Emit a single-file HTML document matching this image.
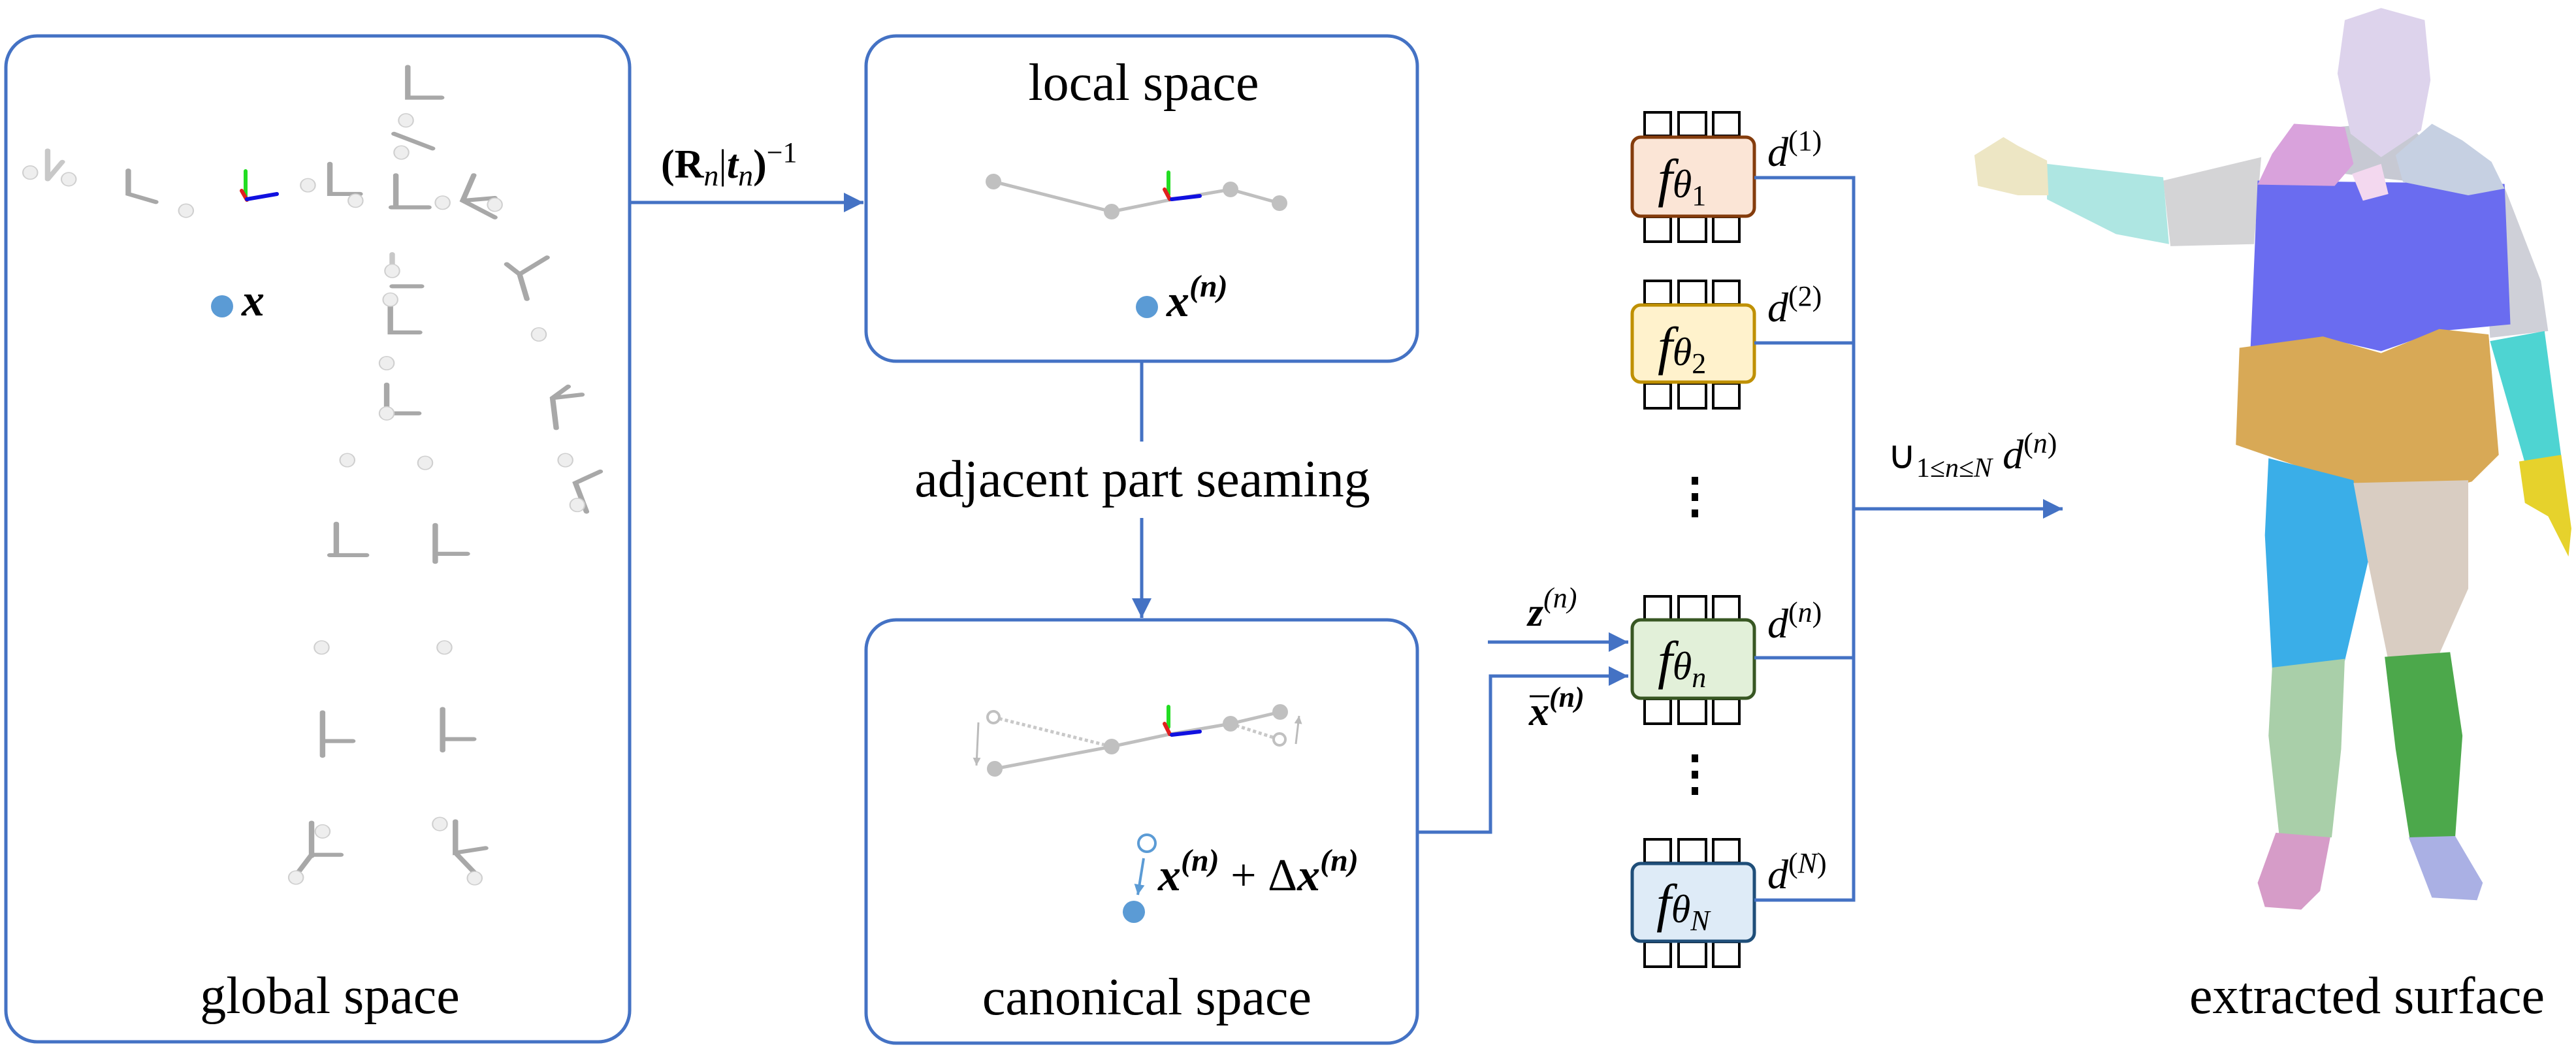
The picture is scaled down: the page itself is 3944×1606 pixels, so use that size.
<!DOCTYPE html>
<html><head><meta charset="utf-8"><style>
html,body{margin:0;padding:0;background:#fff;}
svg{display:block;}
text{font-family:"Liberation Serif",serif;fill:#000;}
.lbl{font-size:80px;}
.m{font-style:italic;}
.b{font-weight:bold;}
</style></head><body>
<svg width="3944" height="1606" viewBox="0 0 3944 1606" xmlns="http://www.w3.org/2000/svg">
<defs>
<marker id="ah" viewBox="0 0 10 10" refX="10" refY="5" markerWidth="6" markerHeight="6" orient="auto" markerUnits="strokeWidth"><path d="M0,0 L10,5 L0,10 z" fill="#4472c4"/></marker>
<marker id="ahg" viewBox="0 0 10 10" refX="10" refY="5" markerWidth="4" markerHeight="4" orient="auto" markerUnits="strokeWidth"><path d="M0,0 L10,5 L0,10 z" fill="#bbb"/></marker>
<marker id="ahb" viewBox="0 0 10 10" refX="10" refY="5" markerWidth="4" markerHeight="4" orient="auto" markerUnits="strokeWidth"><path d="M0,0 L10,5 L0,10 z" fill="#5b9bd5"/></marker>
</defs>

<!-- Global box -->
<rect x="9" y="55" width="955" height="1540" rx="48" fill="none" stroke="#4472c4" stroke-width="5"/>
<text class="lbl" x="505" y="1551" text-anchor="middle">global space</text>

<!-- skeleton (zoom1 coords) -->
<g transform="scale(1.403,1.024)" stroke="#a8a8a8" stroke-width="6" stroke-linecap="round" fill="none">
<path d="M445,100 V146 H482"/>
<path d="M430,200 L472,222"/>
<path d="M52,225 V268 M52,268 L68,242" stroke="#c8c8c8"/>
<path d="M140,255 V290 L170,302"/>
<path d="M360,245 V290 H393"/>
<path d="M432,262 V310 M427,310 H468"/>
<path d="M517,262 L505,300 L540,325 M505,300 L540,296" />
<path d="M428,380 V405" stroke="#c8c8c8"/>
<path d="M428,428 H460"/>
<path d="M426,455 V497 H458"/>
<path d="M553,395 L567,410 L597,385 M567,410 L575,447"/>
<path d="M422,575 V618 H457"/>
<path d="M620,578 L603,595 L607,640 M603,595 L635,590"/>
<path d="M655,705 L628,722 L640,765"/>
<path d="M367,783 V830 M360,830 H400"/>
<path d="M475,785 V840 M475,828 H510"/>
<path d="M352,1065 V1130 M352,1108 H385"/>
<path d="M483,1060 V1122 M483,1105 H517"/>
<path d="M340,1230 V1280 M340,1278 H372 M340,1278 L325,1305"/>
<path d="M497,1228 V1275 L530,1268 M497,1275 L518,1305"/>
</g>
<g transform="scale(1.403,1.024)" fill="#eeeeee" stroke="#cfcfcf" stroke-width="1.5">
<ellipse cx="443" cy="180" rx="8" ry="10"/><ellipse cx="438" cy="228" rx="8" ry="10"/>
<ellipse cx="33" cy="258" rx="8" ry="10"/><ellipse cx="75" cy="268" rx="8" ry="10"/>
<ellipse cx="203" cy="315" rx="8" ry="10"/><ellipse cx="336" cy="277" rx="8" ry="10"/>
<ellipse cx="388" cy="300" rx="8" ry="10"/><ellipse cx="483" cy="303" rx="8" ry="10"/>
<ellipse cx="540" cy="306" rx="8" ry="10"/><ellipse cx="428" cy="405" rx="8" ry="10"/>
<ellipse cx="426" cy="448" rx="8" ry="10"/><ellipse cx="588" cy="500" rx="8" ry="10"/>
<ellipse cx="422" cy="543" rx="8" ry="10"/><ellipse cx="422" cy="618" rx="8" ry="10"/>
<ellipse cx="379" cy="688" rx="8" ry="10"/><ellipse cx="464" cy="692" rx="8" ry="10"/>
<ellipse cx="617" cy="688" rx="8" ry="10"/><ellipse cx="630" cy="755" rx="8" ry="10"/>
<ellipse cx="351" cy="968" rx="8" ry="10"/><ellipse cx="485" cy="968" rx="8" ry="10"/>
<ellipse cx="352" cy="1243" rx="8" ry="10"/><ellipse cx="323" cy="1312" rx="8" ry="10"/>
<ellipse cx="480" cy="1232" rx="8" ry="10"/><ellipse cx="518" cy="1313" rx="8" ry="10"/>
</g>
<g stroke-width="6" stroke-linecap="round">
<line x1="376" y1="302" x2="376" y2="262" stroke="#22dd22"/>
<line x1="370" y1="292" x2="378" y2="306" stroke="#e02020"/>
<line x1="378" y1="305" x2="424" y2="297" stroke="#1010e0"/>
</g>
<circle cx="340" cy="469" r="17" fill="#5b9bd5"/>
<text x="370" y="483" font-size="70" class="m b">x</text>

<!-- (R|t)^-1 arrow -->
<line x1="964" y1="310" x2="1322" y2="310" stroke="#4472c4" stroke-width="5" marker-end="url(#ah)"/>
<text x="1012" y="272" font-size="62"><tspan class="b">(R</tspan><tspan class="m" font-size="46" dy="12">n</tspan><tspan dy="-12">|</tspan><tspan class="m b">t</tspan><tspan class="m" font-size="46" dy="12">n</tspan><tspan class="b" dy="-12">)</tspan><tspan font-size="44" dy="-24">−1</tspan></text>

<!-- Local box -->
<rect x="1326" y="55" width="844" height="498" rx="46" fill="none" stroke="#4472c4" stroke-width="5"/>
<text class="lbl" x="1751" y="153" text-anchor="middle">local space</text>
<polyline points="1521,278 1702,324 1791,306 1884,290 1959,311" fill="none" stroke="#bfbfbf" stroke-width="5"/>
<g fill="#c0c0c0"><circle cx="1521" cy="278" r="12"/><circle cx="1702" cy="324" r="12"/><circle cx="1884" cy="290" r="12"/><circle cx="1959" cy="311" r="12"/></g>
<g stroke-width="6" stroke-linecap="round">
<line x1="1789" y1="264" x2="1789" y2="298" stroke="#22dd22"/>
<line x1="1783" y1="290" x2="1791" y2="305" stroke="#e02020"/>
<line x1="1794" y1="305" x2="1837" y2="300" stroke="#1010e0"/>
</g>
<circle cx="1756" cy="470" r="17" fill="#5b9bd5"/>
<text x="1786" y="484" font-size="70" class="m b">x<tspan font-size="48" dy="-30">(n)</tspan></text>

<!-- seaming arrow -->
<line x1="1748" y1="553" x2="1748" y2="676" stroke="#4472c4" stroke-width="5"/>
<text class="lbl" x="1749" y="760" text-anchor="middle">adjacent part seaming</text>
<line x1="1748" y1="793" x2="1748" y2="946" stroke="#4472c4" stroke-width="5" marker-end="url(#ah)"/>

<!-- Canonical box -->
<rect x="1326" y="949" width="844" height="648" rx="46" fill="none" stroke="#4472c4" stroke-width="5"/>
<text class="lbl" x="1756" y="1553" text-anchor="middle">canonical space</text>
<polyline points="1523,1177 1702,1143 1791,1124 1884,1108 1960,1090" fill="none" stroke="#bfbfbf" stroke-width="5"/>
<line x1="1521" y1="1098" x2="1702" y2="1143" stroke="#c8c8c8" stroke-width="5" stroke-dasharray="5,4"/>
<line x1="1884" y1="1108" x2="1959" y2="1132" stroke="#c8c8c8" stroke-width="5" stroke-dasharray="5,4"/>
<g fill="#c0c0c0"><circle cx="1523" cy="1177" r="12"/><circle cx="1702" cy="1143" r="12"/><circle cx="1884" cy="1108" r="12"/><circle cx="1960" cy="1090" r="12"/></g>
<circle cx="1521" cy="1098" r="9" fill="#fff" stroke="#c0c0c0" stroke-width="4"/>
<circle cx="1959" cy="1132" r="9" fill="#fff" stroke="#c0c0c0" stroke-width="4"/>
<line x1="1498" y1="1106" x2="1495" y2="1172" stroke="#bbb" stroke-width="3" marker-end="url(#ahg)"/>
<line x1="1984" y1="1139" x2="1989" y2="1096" stroke="#bbb" stroke-width="3" marker-end="url(#ahg)"/>
<g stroke-width="6" stroke-linecap="round">
<line x1="1789" y1="1082" x2="1789" y2="1113" stroke="#22dd22"/>
<line x1="1783" y1="1108" x2="1791" y2="1124" stroke="#e02020"/>
<line x1="1794" y1="1125" x2="1837" y2="1120" stroke="#1010e0"/>
</g>
<circle cx="1756" cy="1291" r="13" fill="#fff" stroke="#5b9bd5" stroke-width="4"/>
<line x1="1751" y1="1314" x2="1742" y2="1370" stroke="#5b9bd5" stroke-width="4" marker-end="url(#ahb)"/>
<circle cx="1736" cy="1396" r="17" fill="#5b9bd5"/>
<text x="1773" y="1363" font-size="70"><tspan class="m b">x</tspan><tspan font-size="48" dy="-30" class="m b">(n)</tspan><tspan dy="30"> + Δ</tspan><tspan class="m b">x</tspan><tspan font-size="48" dy="-30" class="m b">(n)</tspan></text>

<!-- connector canonical -> fn -->
<polyline points="2170,1274 2282,1274 2282,1035 2493,1035" fill="none" stroke="#4472c4" stroke-width="5" marker-end="url(#ah)"/>
<line x1="2278" y1="983" x2="2493" y2="983" stroke="#4472c4" stroke-width="5" marker-end="url(#ah)"/>
<text x="2339" y="958" font-size="62"><tspan class="b m">z</tspan><tspan class="m" font-size="44" dy="-28">(n)</tspan></text>
<text x="2341" y="1110" font-size="62"><tspan class="b m">x</tspan><tspan class="b m" font-size="44" dy="-28">(n)</tspan></text>
<line x1="2342" y1="1066" x2="2372" y2="1066" stroke="#000" stroke-width="3"/>

<!-- MLP blocks -->
<g stroke="#000" stroke-width="4" fill="#fff">
<rect x="2518" y="172" width="40" height="36"/><rect x="2570" y="172" width="42" height="36"/><rect x="2623" y="172" width="40" height="36"/>
<rect x="2518" y="332" width="40" height="38"/><rect x="2570" y="332" width="42" height="38"/><rect x="2623" y="332" width="40" height="38"/>
<rect x="2518" y="430" width="40" height="36"/><rect x="2570" y="430" width="42" height="36"/><rect x="2623" y="430" width="40" height="36"/>
<rect x="2518" y="587" width="40" height="38"/><rect x="2570" y="587" width="42" height="38"/><rect x="2623" y="587" width="40" height="38"/>
<rect x="2518" y="913" width="40" height="36"/><rect x="2570" y="913" width="42" height="36"/><rect x="2623" y="913" width="40" height="36"/>
<rect x="2518" y="1070" width="40" height="38"/><rect x="2570" y="1070" width="42" height="38"/><rect x="2623" y="1070" width="40" height="38"/>
<rect x="2518" y="1285" width="40" height="36"/><rect x="2570" y="1285" width="42" height="36"/><rect x="2623" y="1285" width="40" height="36"/>
<rect x="2518" y="1442" width="40" height="38"/><rect x="2570" y="1442" width="42" height="38"/><rect x="2623" y="1442" width="40" height="38"/>
</g>
<rect x="2499" y="210" width="187" height="121" rx="13" fill="#fbe5d6" stroke="#843c0c" stroke-width="5"/>
<rect x="2499" y="467" width="187" height="118" rx="13" fill="#fff2cc" stroke="#bf9000" stroke-width="5"/>
<rect x="2499" y="949" width="187" height="120" rx="13" fill="#e2f0d9" stroke="#385723" stroke-width="5"/>
<rect x="2499" y="1322" width="187" height="119" rx="13" fill="#deebf7" stroke="#1f4e79" stroke-width="5"/>
<g font-size="82" class="m">
<text x="2538" y="300">f<tspan font-size="60" dy="2">θ</tspan><tspan font-size="44" dy="12" font-style="normal">1</tspan></text>
<text x="2538" y="557">f<tspan font-size="60" dy="2">θ</tspan><tspan font-size="44" dy="12" font-style="normal">2</tspan></text>
<text x="2538" y="1038">f<tspan font-size="60" dy="2">θ</tspan><tspan font-size="44" dy="12">n</tspan></text>
<text x="2536" y="1410">f<tspan font-size="60" dy="2">θ</tspan><tspan font-size="44" dy="12">N</tspan></text>
</g>
<g font-size="64">
<text x="2706" y="254" class="m">d<tspan font-size="44" dy="-24" font-style="normal">(1)</tspan></text>
<text x="2706" y="492" class="m">d<tspan font-size="44" dy="-24" font-style="normal">(2)</tspan></text>
<text x="2706" y="976" class="m">d<tspan font-size="44" dy="-24" font-style="normal">(</tspan><tspan font-size="44">n</tspan><tspan font-size="44" font-style="normal">)</tspan></text>
<text x="2706" y="1360" class="m">d<tspan font-size="44" dy="-24" font-style="normal">(</tspan><tspan font-size="44">N</tspan><tspan font-size="44" font-style="normal">)</tspan></text>
</g>
<g fill="#000">
<rect x="2590" y="730" width="10" height="12"/><rect x="2590" y="755" width="10" height="12"/><rect x="2590" y="780" width="10" height="12"/>
<rect x="2590" y="1155" width="10" height="12"/><rect x="2590" y="1180" width="10" height="12"/><rect x="2590" y="1205" width="10" height="12"/>
</g>
<g stroke="#4472c4" stroke-width="5" fill="none">
<polyline points="2686,272 2838,272 2838,1378 2686,1378"/>
<line x1="2686" y1="525" x2="2838" y2="525"/>
<line x1="2686" y1="1007" x2="2838" y2="1007"/>
</g>
<line x1="2838" y1="779" x2="3158" y2="779" stroke="#4472c4" stroke-width="5" marker-end="url(#ah)"/>
<text x="2890" y="717" font-size="60" font-family="Liberation Sans,sans-serif">∪<tspan font-size="42" dy="13">1≤<tspan font-style="italic" font-family="Liberation Serif,serif">n</tspan>≤<tspan font-style="italic" font-family="Liberation Serif,serif">N</tspan></tspan><tspan dy="-13" font-family="Liberation Serif,serif" font-style="italic" font-size="64"> d</tspan><tspan font-family="Liberation Serif,serif" font-size="44" dy="-24">(<tspan font-style="italic">n</tspan>)</tspan></text>

<!-- Human mesh (zoom2 coords) -->
<g transform="translate(2200,0) scale(1.112,1.024)" stroke="none">
<path d="M1000,270 L1135,235 L1125,365 L1010,368 Z" fill="#d4d4d6"/>
<path d="M840,245 L1000,265 L1008,365 L935,350 L840,298 Z" fill="#aee6e2"/>
<path d="M740,232 L780,205 L800,218 L840,240 L842,292 L800,292 L745,278 Z" fill="#ede6c4"/>
<path d="M1440,300 L1470,280 L1520,420 L1530,495 L1450,505 Z" fill="#cfd0d8"/>
<path d="M1130,270 L1470,275 L1478,485 L1380,495 L1300,525 L1220,505 L1120,525 Z" fill="#6a6cf0"/>
<path d="M1105,520 L1220,503 L1300,528 L1380,492 L1448,500 L1462,680 L1425,720 L1345,745 L1262,722 L1180,695 L1100,665 Z" fill="#d8a956"/>
<path d="M1450,510 L1525,495 L1548,682 L1498,692 Z" fill="#4ed4d2"/>
<path d="M1490,690 L1548,680 L1562,790 L1558,832 L1530,772 L1498,752 Z" fill="#e6d22c"/>
<path d="M1145,685 L1262,718 L1282,840 L1250,988 L1150,1000 L1140,800 Z" fill="#3aaee8"/>
<path d="M1262,722 L1420,718 L1420,880 L1380,978 L1310,988 L1282,840 Z" fill="#d9cdc2"/>
<path d="M1150,998 L1250,985 L1245,1120 L1232,1252 L1160,1252 L1145,1100 Z" fill="#a9cfa9"/>
<path d="M1305,982 L1395,975 L1412,1100 L1402,1252 L1340,1258 L1320,1120 Z" fill="#4ca84b"/>
<path d="M1155,1245 L1230,1252 L1216,1332 L1190,1360 L1140,1356 L1130,1320 Z" fill="#d69cc8"/>
<path d="M1338,1252 L1402,1250 L1440,1320 L1432,1346 L1370,1342 Z" fill="#aab0e4"/>
<path d="M1240,190 L1330,180 L1380,230 L1330,270 L1250,260 Z" fill="#c7c9d3"/>
<path d="M1180,185 L1250,190 L1262,245 L1236,278 L1130,276 L1150,230 Z" fill="#d9a2dc"/>
<path d="M1320,232 L1370,185 L1412,210 L1452,242 L1470,282 L1420,292 L1330,272 Z" fill="#c6d0e2"/>
<path d="M1260,260 L1300,245 L1310,290 L1275,300 Z" fill="#f3d8ef"/>
<path d="M1250,30 L1300,12 L1360,30 L1368,120 L1355,195 L1300,235 L1258,200 L1240,110 Z" fill="#ddd3ec"/>
</g>
<text class="lbl" x="3624" y="1551" text-anchor="middle">extracted surface</text>
</svg>
</body></html>
